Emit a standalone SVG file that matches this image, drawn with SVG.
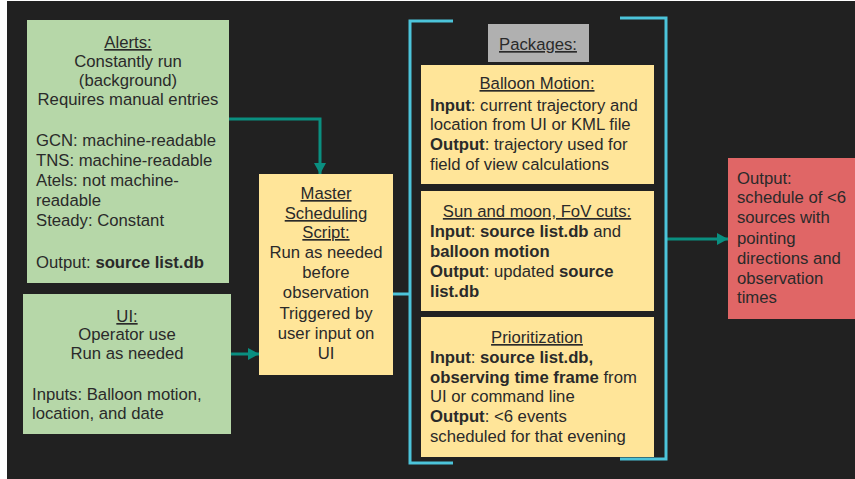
<svg xmlns="http://www.w3.org/2000/svg" width="855" height="479" viewBox="0 0 855 479">
<defs>
<style>
text{font-family:"Liberation Sans",Arial,sans-serif;font-size:16.7px;fill:#2a2a2a}
.c{text-anchor:middle}
.u{text-decoration:underline}
.b{font-weight:bold}
.teal{stroke:#0a8f80;stroke-width:3;fill:none}
.cyan{stroke:#4cc4da;stroke-width:3;fill:none}
</style>
<marker id="ah" markerUnits="userSpaceOnUse" markerWidth="12" markerHeight="12" refX="11" refY="6" orient="auto">
<path d="M0,0 L11,6 L0,12 Z" fill="#0a8f80"/>
</marker>
</defs>
<rect x="0" y="0" width="855" height="479" fill="#ffffff"/>
<rect x="7" y="1" width="848" height="478" fill="#212121"/>

<g id="connectors">
<path class="teal" d="M229,119 H320 V174" marker-end="url(#ah)"/>
<path class="teal" d="M231,354 H259" marker-end="url(#ah)"/>
<path class="teal" d="M667,239 H728" marker-end="url(#ah)"/>
<path class="cyan" d="M393,294 H410"/>
<path class="cyan" d="M453,21 H410 V463 H453"/>
<path class="cyan" d="M620,18 H666 V459 H620"/>
</g>

<g id="alerts">
<rect x="27" y="20" width="202" height="263" fill="#b6d7a8"/>
<text x="128" y="48" class="c u">Alerts:</text>
<text x="128" y="67" class="c">Constantly run</text>
<text x="128" y="86" class="c">(background)</text>
<text x="128" y="105" class="c">Requires manual entries</text>
<text x="36" y="146">GCN: machine-readable</text>
<text x="36" y="166">TNS: machine-readable</text>
<text x="36" y="186">Atels: not machine-</text>
<text x="36" y="206">readable</text>
<text x="36" y="226">Steady: Constant</text>
<text x="36" y="268">Output: <tspan class="b">source list.db</tspan></text>
</g>

<g id="ui">
<rect x="23" y="294" width="208" height="140" fill="#b6d7a8"/>
<text x="127" y="322" class="c u">UI:</text>
<text x="127" y="340" class="c">Operator use</text>
<text x="127" y="359" class="c">Run as needed</text>
<text x="32" y="400">Inputs: Balloon motion,</text>
<text x="32" y="419">location, and date</text>
</g>

<g id="master">
<rect x="259" y="174" width="134" height="201" fill="#ffe599"/>
<text x="326" y="199" class="c u">Master</text>
<text x="326" y="219" class="c u">Scheduling</text>
<text x="326" y="238" class="c u">Script:</text>
<text x="326" y="258" class="c">Run as needed</text>
<text x="326" y="278" class="c">before</text>
<text x="326" y="298" class="c">observation</text>
<text x="326" y="319" class="c">Triggered by</text>
<text x="326" y="339" class="c">user input on</text>
<text x="326" y="359" class="c">UI</text>
</g>

<g id="packages">
<rect x="488" y="24" width="101" height="38" fill="#b0b0b0"/>
<text x="538" y="50" class="c u">Packages:</text>
</g>

<g id="balloon">
<rect x="421" y="65" width="233" height="119" fill="#ffe599"/>
<text x="537" y="89" class="c u">Balloon Motion:</text>
<text x="430" y="111"><tspan class="b">Input</tspan>: current trajectory and</text>
<text x="430" y="130">location from UI or KML file</text>
<text x="430" y="150"><tspan class="b">Output</tspan>: trajectory used for</text>
<text x="430" y="170">field of view calculations</text>
</g>

<g id="sunmoon">
<rect x="421" y="191" width="233" height="120" fill="#ffe599"/>
<text x="537" y="217" class="c u">Sun and moon, FoV cuts:</text>
<text x="430" y="237"><tspan class="b">Input</tspan>: <tspan class="b">source list.db</tspan> and</text>
<text x="430" y="257" class="b">balloon motion</text>
<text x="430" y="277"><tspan class="b">Output</tspan>: updated <tspan class="b">source</tspan></text>
<text x="430" y="297" class="b">list.db</text>
</g>

<g id="prioritization">
<rect x="421" y="317" width="233" height="140" fill="#ffe599"/>
<text x="537" y="343" class="c u">Prioritization</text>
<text x="430" y="363"><tspan class="b">Input</tspan>: <tspan class="b">source list.db,</tspan></text>
<text x="430" y="383"><tspan class="b">observing time frame</tspan> from</text>
<text x="430" y="402">UI or command line</text>
<text x="430" y="422"><tspan class="b">Output</tspan>: &lt;6 events</text>
<text x="430" y="442">scheduled for that evening</text>
</g>

<g id="output">
<rect x="728" y="158" width="127" height="161" fill="#e06666"/>
<text x="737" y="184">Output:</text>
<text x="737" y="203">schedule of &lt;6</text>
<text x="737" y="223">sources with</text>
<text x="737" y="244">pointing</text>
<text x="737" y="264">directions and</text>
<text x="737" y="284">observation</text>
<text x="737" y="303">times</text>
</g>
</svg>
